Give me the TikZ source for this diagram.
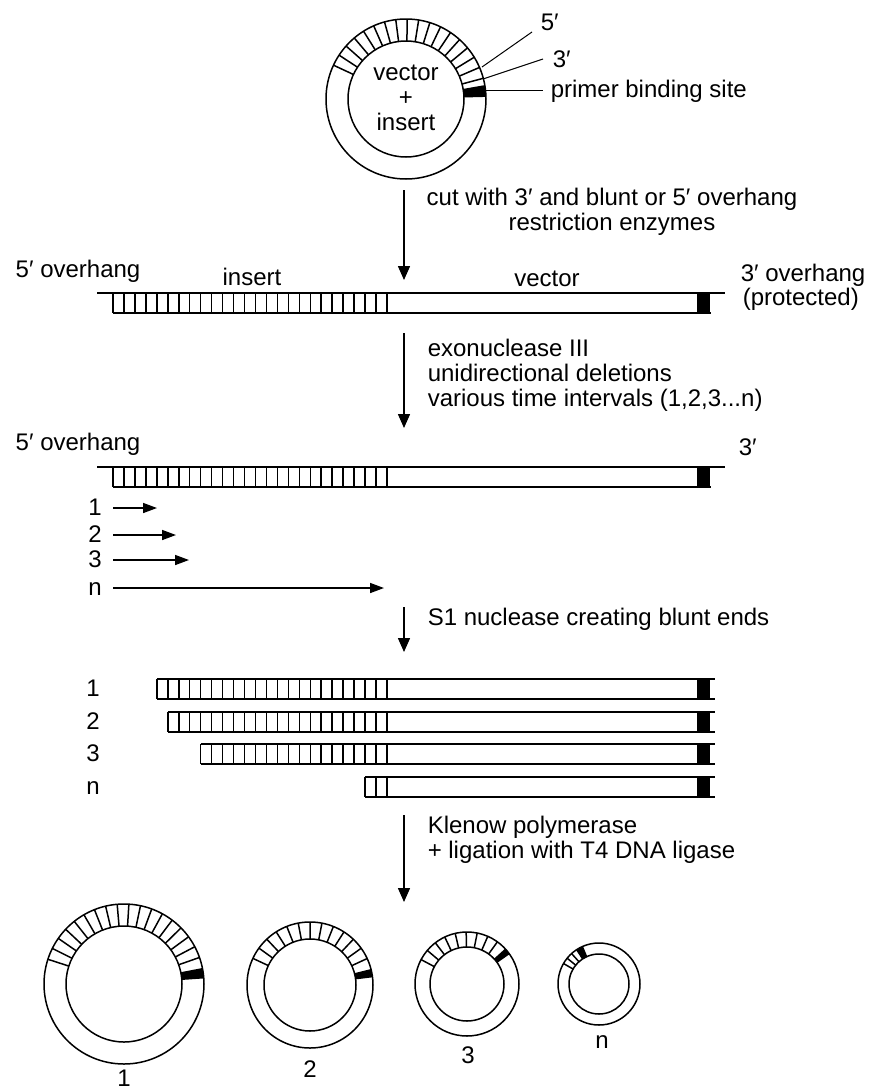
\documentclass[tikz,border=0pt]{standalone}
\usepackage{fontspec}
\setmainfont{Liberation Sans}
\usetikzlibrary{arrows.meta}

% ring with hatched insert and black primer site
\newcommand{\plasmid}[9]{%
  \begin{scope}[shift={(#1,#2)}, yscale=-1]
    \fill (#8:#4) arc[start angle=#8, end angle=#9, radius=#4]
      -- (#9:#3) arc[start angle=#9, end angle=#8, radius=#3] -- cycle;
    \draw (0,0) circle[radius=#3] (0,0) circle[radius=#4];
    \foreach \k in {0,...,#7}{% one radial stroke per cell
      \pgfmathsetmacro\ang{#5+(#6-#5)*\k/#7}
      \draw (\ang:#4) -- (\ang:#3);}
  \end{scope}}

% linear piece: top y, cells, top strand from/to, bottom strand to
\newcommand{\dnabar}[5]{%
  \pgfmathsetmacro\barstart{387-10.96*#2}
  \fill (697,#1) rectangle (710,#1+20);
  \draw (#3,#1) -- (#4,#1);
  \draw (\barstart,#1+20) -- (#5,#1+20);
  \foreach \k in {0,...,#2}{\draw (387-10.96*\k,#1) -- ++(0,20);}}

\begin{document}
\begin{tikzpicture}[x=1pt, y=-1pt, line width=1.5pt,
  flow/.style={-{Triangle[length=14pt,width=12pt]}},
  dart/.style={-{Triangle[length=14pt,width=10pt]}},
  lbl/.style={inner sep=0pt, font=\fontsize{24}{25}\selectfont}]

\useasboundingbox (0,0) rectangle (868,1090);

% starting plasmid
\plasmid{406}{99}{80}{58}{15}{155}{17}{1.5}{10}
\node[lbl, anchor=base] (vec) at (406,80) {vector};
\node[lbl] (plus) at (406,99) {+};
\node[lbl, anchor=base] (ins) at (406,130) {insert};

\coordinate (p5) at (482,67);  \coordinate (q5) at (532,32);
\coordinate (p3) at (483,79);  \coordinate (q3) at (543,59);
\coordinate (pp) at (485,90);  \coordinate (qp) at (543,90);
\draw[line width=1pt] (p5) -- (q5);
\draw[line width=1pt] (p3) -- (q3);
\draw[line width=1pt] (pp) -- (qp);
\node[lbl, anchor=base west] (five) at (540,30) {5′};
\node[lbl, anchor=base west] (three) at (552,67) {3′};
\node[lbl, anchor=base west] (primer) at (550,97) {primer binding site};

% cut
\coordinate (a1) at (404,190); \coordinate (b1) at (404,280);
\draw[flow] (a1) -- (b1);
\node[lbl, anchor=north, align=center] (cut) at (612,187)
  {cut with 3′ and blunt or 5′ overhang\\restriction enzymes};

\node[lbl, anchor=base west] (ov5a) at (15,277) {5′ overhang};
\node[lbl, anchor=base] (insl) at (252,285) {insert};
\node[lbl, anchor=base] (vecl) at (547,286) {vector};
\node[lbl, anchor=base west] (ov3a) at (740,281) {3′ overhang};
\node[lbl, anchor=base west] (prot) at (742,305) {(protected)};
\dnabar{293}{25}{97}{725}{711}

% exonuclease III
\coordinate (a2) at (404,333); \coordinate (b2) at (404,428);
\draw[flow] (a2) -- (b2);
\node[lbl, anchor=north west, align=left] (exo) at (427,338)
  {exonuclease III\\unidirectional deletions\\various time intervals (1,2,3...n)};

\node[lbl, anchor=base west] (ov5b) at (15,450) {5′ overhang};
\node[lbl, anchor=base west] (end3) at (738,455) {3′};
\dnabar{467}{25}{97}{725}{711}

\foreach \t/\y/\e in {1/508/157, 2/535/176, 3/560/189, n/588/384}{%
  \node[lbl, anchor=base] (t\t) at (95,\y+7) {\t};
  \coordinate (s\t) at (113,\y); \coordinate (e\t) at (\e,\y);
  \draw[dart] (s\t) -- (e\t);}

% S1 nuclease
\coordinate (a3) at (404,607); \coordinate (b3) at (404,652);
\draw[flow] (a3) -- (b3);
\node[lbl, anchor=north west] (s1) at (427,607) {S1 nuclease creating blunt ends};

\foreach \t/\y/\c in {1/679/21, 2/712/20, 3/744/17, n/777/2}{%
  \pgfmathsetmacro\xs{387-10.96*\c}
  \node[lbl, anchor=base] (r\t) at (93,\y+17) {\t};
  \dnabar{\y}{\c}{\xs}{715}{715}}

% Klenow + ligation
\coordinate (a4) at (404,815); \coordinate (b4) at (404,902);
\draw[flow] (a4) -- (b4);
\node[lbl, anchor=north west, align=left] (kle) at (427,815)
  {Klenow polymerase\\+ ligation with T4 DNA ligase};

% recircularised products
\plasmid{124}{984}{80}{58}{11}{162}{18}{4}{11}
\plasmid{310}{985}{63}{46}{14}{155}{13}{7}{14}
\plasmid{467}{984}{52}{37}{42}{152}{9}{35}{42}
\plasmid{599}{984}{41}{30}{123}{150}{3}{113}{123}
\node[lbl, anchor=base] (c1) at (124,1086) {1};
\node[lbl, anchor=base] (c2) at (310,1077) {2};
\node[lbl, anchor=base] (c3) at (468,1063) {3};
\node[lbl, anchor=base] (cn) at (602,1048) {n};

\end{tikzpicture}
\end{document}
